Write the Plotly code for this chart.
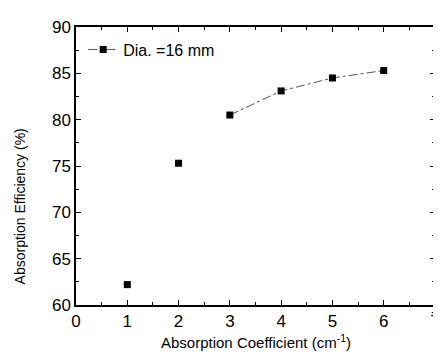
import plotly.graph_objects as go

x_vals = [1, 2, 3, 4, 5, 6]
efficiency = [62.2, 75.3, 80.5, 83.1, 84.5, 85.3]
fit_x = [3, 4, 5, 6]
fit_y = [80.5, 83.1, 84.5, 85.3]
x_ticks = [0, 1, 2, 3, 4, 5, 6, 7]
y_ticks = [60, 65, 70, 75, 80, 85, 90]
series_name = "Dia. =16 mm"
x_title = "Absorption Coefficient (cm<sup>-1</sup>)"
y_title = "Absorption Efficiency (%)"

FONT = "Liberation Sans, Arial"

fig = go.Figure()
fig.add_trace(go.Scatter(x=fit_x, y=fit_y, mode="lines+markers", name=series_name,
                         line=dict(color="#555", width=1, dash="dashdot"),
                         marker=dict(symbol="square", size=7, color="black")))
fig.add_trace(go.Scatter(x=x_vals[:2], y=efficiency[:2], mode="markers", showlegend=False,
                         marker=dict(symbol="square", size=7, color="black")))

axis_common = dict(showline=True, linecolor="black", linewidth=1.5, mirror="ticks",
                   ticks="inside", ticklen=5, tickcolor="black", showgrid=False, zeroline=False,
                   tickmode="array",
                   tickfont=dict(family=FONT, size=17, color="black"))
fig.update_xaxes(range=[0, 7], tickvals=x_ticks, ticktext=[str(v) for v in x_ticks],
                 minor=dict(ticks="inside", ticklen=3, dtick=0.5, tickcolor="black"),
                 **axis_common)
fig.update_yaxes(range=[60, 90], tickvals=y_ticks, ticktext=[str(v) for v in y_ticks],
                 minor=dict(ticks="inside", ticklen=3, dtick=2.5, tickcolor="black"),
                 **axis_common)
# last x tick label (plotly drops the label at the right edge)
fig.add_annotation(text=str(x_ticks[-1]), xref="x", yref="paper", x=x_ticks[-1], y=0,
                   xanchor="center", yanchor="top", yshift=-2, showarrow=False,
                   font=dict(family=FONT, size=17, color="black"))
fig.add_annotation(text=x_title, xref="paper", yref="paper", x=0.5, y=-0.13,
                   xanchor="center", yanchor="middle", showarrow=False,
                   font=dict(family=FONT, size=15, color="black"))
fig.add_annotation(text=y_title, xref="paper", yref="paper", x=-0.155, y=0.356,
                   xanchor="center", yanchor="middle", showarrow=False, textangle=-90,
                   font=dict(family=FONT, size=14, color="black"))
fig.update_layout(width=441, height=356, margin=dict(l=68, r=9, t=19, b=59),
                  plot_bgcolor="white", paper_bgcolor="white",
                  legend=dict(x=0.02, y=0.98, xanchor="left", yanchor="top", bgcolor="rgba(0,0,0,0)",
                              font=dict(family=FONT, size=16, color="black"),
                              itemwidth=30))
fig.write_html("out.html")
